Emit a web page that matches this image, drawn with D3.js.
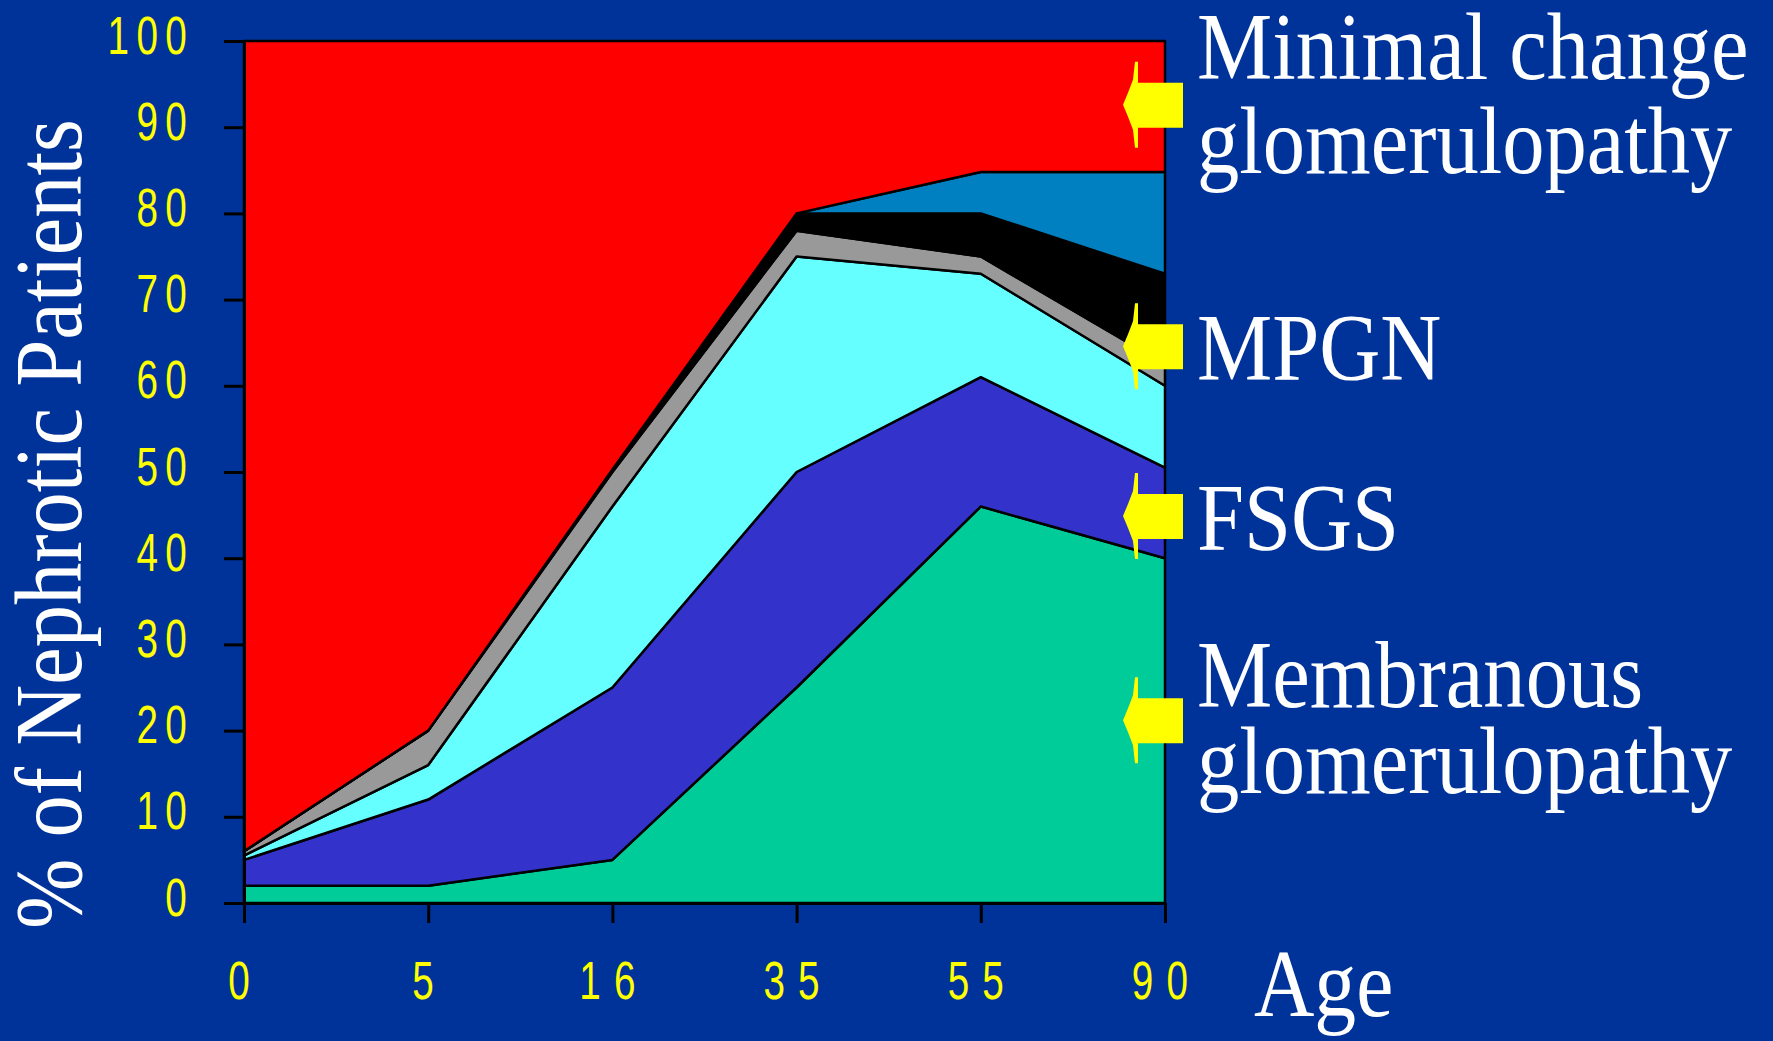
<!DOCTYPE html>
<html>
<head>
<meta charset="utf-8">
<script src="https://cdn.jsdelivr.net/npm/d3@7"></script>
<style>
html, body { margin: 0; padding: 0; background: #003399; overflow: hidden; }
svg { display: block; }
</style>
</head>
<body>
<svg id="chart" width="1773" height="1041"></svg>
<script>
// ---------------- data ----------------
const ages = ["0", "5", "16", "35", "55", "90"];
// stacked values (% of nephrotic patients), bottom to top
const membranous    = [2,   2,  5,    25, 46,   40];
const fsgs          = [3,   10, 20,   25, 15,   10.5];
const cyanSeries    = [0.5, 4,  21,   25, 12,   9.5];
const graySeries    = [0.5, 4,  4,    3,  2,    2.5];
const mpgn          = [0,   0,  0.3,  2,  5,    10.5];
const otherSeries   = [0,   0,  0,    0,  4.8,  11.8];
const minimalChange = [94,  80, 49.7, 20, 15.2, 15.2];

const seriesKeys = ["membranous", "fsgs", "cyan", "gray", "mpgn", "other", "minimal"];
const seriesColors = ["#00CC99", "#3333CC", "#66FFFF", "#999999", "#000000", "#0080C0", "#FF0000"];

const yTicks = [0, 10, 20, 30, 40, 50, 60, 70, 80, 90, 100];

const labelLines = [["Minimal change", "glomerulopathy"], ["MPGN"], ["FSGS"], ["Membranous", "glomerulopathy"]];
const labelAnchors = [92.6, 64.6, 44.9, 21.2];   // value (%) each yellow arrow points at
const yTitle = "% of Nephrotic Patients";
const xTitle = "Age";

// ---------------- layout ----------------
const W = 1773, H = 1041;
const plotL = 244, plotR = 1165, plotT = 41, plotB = 903;

const svg = d3.select("#chart");
svg.append("rect").attr("width", W).attr("height", H).attr("fill", "#003399");

const x = d3.scalePoint().domain(ages).range([plotL, plotR]).padding(0);
const y = d3.scaleLinear().domain([0, 100]).range([plotB, plotT]);

const table = ages.map((a, i) => ({
  age: a,
  membranous: membranous[i],
  fsgs: fsgs[i],
  cyan: cyanSeries[i],
  gray: graySeries[i],
  mpgn: mpgn[i],
  other: otherSeries[i],
  minimal: minimalChange[i]
}));

const layers = d3.stack().keys(seriesKeys)(table);

const area = d3.area()
  .x(d => x(d.data.age))
  .y0(d => y(d[0]))
  .y1(d => y(d[1]));

svg.append("g")
  .selectAll("path")
  .data(layers)
  .join("path")
  .attr("d", area)
  .attr("fill", (d, i) => seriesColors[i])
  .attr("stroke", "#000")
  .attr("stroke-width", 2.5)
  .attr("stroke-linejoin", "round");

// ---------------- axes ----------------
const tickFont = "'Liberation Sans', Arial, sans-serif";

const gy = svg.append("g")
  .attr("transform", `translate(${plotL},0)`)
  .call(d3.axisLeft(y).tickValues(yTicks).tickSize(20).tickSizeOuter(0).tickFormat(d3.format("d")));
gy.select(".domain").attr("stroke", "#000").attr("stroke-width", 3);
gy.selectAll(".tick line").attr("stroke", "#000").attr("stroke-width", 3);
gy.selectAll(".tick text")
  .attr("x", 0).attr("dy", null)
  .attr("transform", "translate(-50,12) scale(0.73,1)")
  .attr("text-anchor", "end")
  .attr("fill", "#FFFF00")
  .attr("font-family", tickFont)
  .attr("font-size", 53)
  .attr("letter-spacing", 10);

const gx = svg.append("g")
  .attr("transform", `translate(0,${plotB})`)
  .call(d3.axisBottom(x).tickSize(20).tickSizeOuter(0));
gx.select(".domain").attr("stroke", "#000").attr("stroke-width", 3);
gx.selectAll(".tick line").attr("stroke", "#000").attr("stroke-width", 3);
gx.selectAll(".tick text")
  .attr("y", 0).attr("dy", null)
  .attr("transform", "translate(1,96) scale(0.73,1)")
  .attr("text-anchor", "middle")
  .attr("fill", "#FFFF00")
  .attr("font-family", tickFont)
  .attr("font-size", 53)
  .attr("letter-spacing", 18);

// ---------------- titles & labels ----------------
const serif = "'Liberation Serif', 'Times New Roman', serif";

svg.append("text")
  .attr("transform", `translate(81,524) rotate(-90) scale(0.89,1)`)
  .attr("text-anchor", "middle")
  .attr("fill", "#fff")
  .attr("font-family", serif)
  .attr("font-size", 95)
  .text(yTitle);

svg.append("text")
  .attr("transform", `translate(1254,1016) scale(0.88,1)`)
  .attr("fill", "#fff")
  .attr("font-family", serif)
  .attr("font-size", 95)
  .text(xTitle);

// label baselines relative to arrow centre
const firstBaselineOffset = [-26, 34, 34, -13];
const lineGap = [94, 0, 0, 86];
labelLines.forEach((lines, k) => {
  const cy = y(labelAnchors[k]);
  lines.forEach((ln, j) => {
    svg.append("text")
      .attr("transform", `translate(1197,${cy + firstBaselineOffset[k] + j * lineGap[k]}) scale(0.89,1)`)
      .attr("fill", "#fff")
      .attr("font-family", serif)
      .attr("font-size", 95)
      .text(ln);
  });
});

// yellow arrows
const tipX = plotR - 42, baseX = plotR - 27, endX = plotR + 18;
svg.append("g")
  .selectAll("path")
  .data(labelAnchors)
  .join("path")
  .attr("fill", "#FFFF00")
  .attr("d", v => {
    const cy = y(v);
    return `M${endX},${cy - 22} L${baseX},${cy - 22} L${baseX},${cy - 43} L${baseX - 3},${cy - 43}
            L${baseX - 5},${cy - 25} L${baseX - 10},${cy - 12} L${tipX},${cy}
            L${baseX - 10},${cy + 12} L${baseX - 5},${cy + 25} L${baseX - 3},${cy + 43}
            L${baseX},${cy + 43} L${baseX},${cy + 23} L${endX},${cy + 23} Z`;
  });
</script>
</body>
</html>
